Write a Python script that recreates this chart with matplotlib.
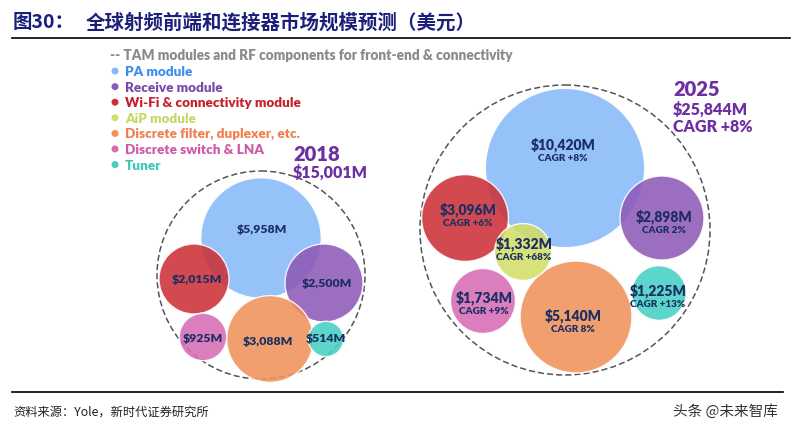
import numpy as np
import matplotlib
matplotlib.use("Agg")
import matplotlib.pyplot as plt
from matplotlib.patches import Circle

plt.rcParams['font.family'] = ['Lato', 'Noto Sans CJK SC', 'DejaVu Sans']

# data
segments = ["PA module", "Receive module", "Wi-Fi & connectivity module", "AiP module",
            "Discrete filter, duplexer, etc.", "Discrete switch & LNA", "Tuner"]
values_2018 = [5958, 2500, 2015, 0, 3088, 925, 514]
values_2025 = [10420, 2898, 3096, 1332, 5140, 1734, 1225]
cagr_2025 = ["CAGR +8%", "CAGR 2%", "CAGR +6%", "CAGR +68%", "CAGR 8%", "CAGR +9%", "CAGR +13%"]
total_2018 = 15001
total_2025 = 25844
total_cagr = "CAGR +8%"

# styles
fill_colors = ["#86BAF8", "#8E5AB8", "#CC3038", "#D2DE68", "#F0925A", "#D66CB4", "#45D0C4"]
text_colors = ["#3D8DF0", "#7B46AA", "#C4202A", "#C3D866", "#F07E4E", "#D058A8", "#3CC8BA"]
navy = "#1C2E63"
purple_txt = "#6E2FA2"
heavy = "heavy"

# layout (pixel coordinates) -- circle centers and label spots
k = 0.78
c2018 = [(261, 239), (324, 284), (194, 280), None, (270, 340), (203, 338), (326, 340)]
lab2018 = [(262, 230), (327, 284), (197, 280), None, (268, 342), (203, 339), (326, 339)]
c2025 = [(565, 169), (662, 219), (465, 219), (523, 253), (576, 318), (483, 302), (659, 294)]
lab2025 = [(563, 145), (664, 217), (468, 210), (524, 244), (573, 316), (484, 298), (658, 291)]
draw_order = [0, 2, 1, 4, 5, 6, 3]

fig = plt.figure(figsize=(7.91, 4.35), dpi=100)
ax = fig.add_axes([0, 0, 1, 1])
ax.set_xlim(0, 791)
ax.set_ylim(435, 0)
ax.axis("off")

# header
ax.text(13, 23, "图30：", fontsize=14, fontweight="bold", color="#1A1F7A",
        family=['Noto Sans CJK SC'], va="center", ha="left")
ax.text(86, 23, "全球射频前端和连接器市场规模预测（美元）", fontsize=14, fontweight="bold",
        color="#1A1F7A", family=['Noto Sans CJK SC'], va="center", ha="left")
ax.plot([12, 790], [39, 39], color="black", lw=1.2)

# legend
ax.text(110, 55, "-- TAM modules and RF components for front-end & connectivity",
        fontsize=9.8, fontweight=heavy, color="#8A8A8A", va="center")
for i, name in enumerate(segments):
    y = 72 + i * 15.6
    ax.add_patch(Circle((115, y), 3.5, color=fill_colors[i], lw=0))
    ax.text(125, y, name, fontsize=9.7, fontweight=heavy, color=text_colors[i], va="center")

# outer dashed circles
ax.add_patch(Circle((261, 276), 104, fill=False, ec="#555555", lw=1.1, ls=(0, (4, 2))))
ax.add_patch(Circle((565, 231), 145, fill=False, ec="#555555", lw=1.1, ls=(0, (4, 2))))

# 2018 bubbles
for i in draw_order:
    if c2018[i] is None or values_2018[i] == 0:
        continue
    r = k * np.sqrt(values_2018[i])
    ax.add_patch(Circle(c2018[i], r, fc=fill_colors[i], ec="white", lw=1, alpha=0.88))
for i in range(len(segments)):
    if lab2018[i] is None:
        continue
    ax.text(lab2018[i][0], lab2018[i][1], "${:,}M".format(values_2018[i]), fontsize=8.8,
            fontweight=heavy, color=navy, ha="center", va="center")

# 2025 bubbles
for i in draw_order:
    r = k * np.sqrt(values_2025[i])
    ax.add_patch(Circle(c2025[i], r, fc=fill_colors[i], ec="white", lw=1, alpha=0.88))
for i in range(len(segments)):
    x, y = lab2025[i]
    ax.text(x, y, "${:,}M".format(values_2025[i]), fontsize=10, fontweight=heavy,
            color=navy, ha="center", va="center")
    ax.text(x, y + 13.5, cagr_2025[i], fontsize=7.2, fontweight=heavy,
            color=navy, ha="center", va="center")

# totals
ax.text(293, 155, "2018", fontsize=14.5, fontweight=heavy, color=purple_txt, va="center")
ax.text(293, 173, "${:,}M".format(total_2018), fontsize=11.5, fontweight=heavy,
        color=purple_txt, va="center")
ax.text(673, 90, "2025", fontsize=14.5, fontweight=heavy, color=purple_txt, va="center")
ax.text(673, 110, "${:,}M".format(total_2025), fontsize=11.5, fontweight=heavy,
        color=purple_txt, va="center")
ax.text(673, 127, total_cagr, fontsize=11.5, fontweight=heavy, color=purple_txt, va="center")

# footer
ax.plot([12, 783], [393, 393], color="black", lw=1.2)
ax.text(13, 412, "资料来源：Yole，新时代证券研究所", fontsize=8.8, color="#222222",
        family=['Noto Sans CJK SC'], va="center")
ax.text(778, 412, "头条 @未来智库", fontsize=10.5, color="#333333",
        family=['Noto Sans CJK SC'], va="center", ha="right")

fig.savefig("out.png", dpi=100)
